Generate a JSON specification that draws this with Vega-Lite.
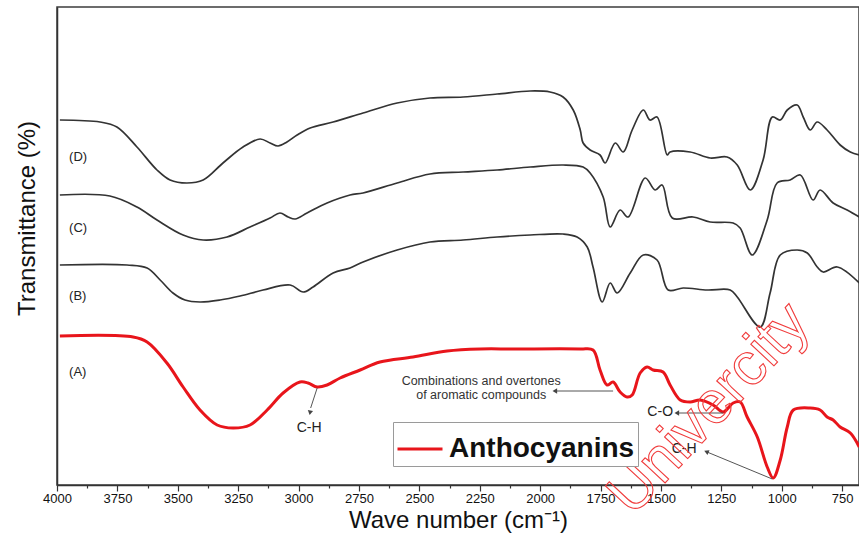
{
  "$schema": "https://vega.github.io/schema/vega-lite/v6.json",
  "width": 802,
  "height": 478,
  "autosize": {"type": "none"},
  "padding": {"left": 57, "top": 7, "right": 0, "bottom": 56},
  "background": "white",
  "config": {"view": {"stroke": "#3c3c3c", "strokeWidth": 1.5}, "font": "Liberation Sans"},
  "datasets": {
    "spectra": [
      {"s":"D","wn":3988,"t":365},{"s":"D","wn":3822,"t":363},{"s":"D","wn":3752,"t":358},{"s":"D","wn":3669,"t":338},{"s":"D","wn":3586,"t":315},{"s":"D","wn":3532,"t":305},{"s":"D","wn":3462,"t":302},{"s":"D","wn":3395,"t":305},{"s":"D","wn":3313,"t":322},{"s":"D","wn":3230,"t":338},{"s":"D","wn":3159,"t":346},{"s":"D","wn":3118,"t":342},{"s":"D","wn":3085,"t":339},{"s":"D","wn":3048,"t":343},{"s":"D","wn":3006,"t":350},{"s":"D","wn":2952,"t":357},{"s":"D","wn":2857,"t":363},{"s":"D","wn":2733,"t":372},{"s":"D","wn":2592,"t":382},{"s":"D","wn":2456,"t":387},{"s":"D","wn":2319,"t":388},{"s":"D","wn":2178,"t":391},{"s":"D","wn":2041,"t":394},{"s":"D","wn":1959,"t":393},{"s":"D","wn":1905,"t":388},{"s":"D","wn":1863,"t":375},{"s":"D","wn":1834,"t":355},{"s":"D","wn":1822,"t":342},{"s":"D","wn":1793,"t":335},{"s":"D","wn":1752,"t":330},{"s":"D","wn":1731,"t":322},{"s":"D","wn":1689,"t":342},{"s":"D","wn":1656,"t":333},{"s":"D","wn":1619,"t":355},{"s":"D","wn":1573,"t":375},{"s":"D","wn":1545,"t":365},{"s":"D","wn":1516,"t":368},{"s":"D","wn":1474,"t":330},{"s":"D","wn":1462,"t":333},{"s":"D","wn":1379,"t":333},{"s":"D","wn":1296,"t":327},{"s":"D","wn":1226,"t":328},{"s":"D","wn":1184,"t":320},{"s":"D","wn":1130,"t":295},{"s":"D","wn":1077,"t":325},{"s":"D","wn":1039,"t":368},{"s":"D","wn":1006,"t":365},{"s":"D","wn":977,"t":375},{"s":"D","wn":936,"t":380},{"s":"D","wn":911,"t":368},{"s":"D","wn":882,"t":355},{"s":"D","wn":853,"t":363},{"s":"D","wn":812,"t":355},{"s":"D","wn":758,"t":340},{"s":"D","wn":716,"t":333},{"s":"D","wn":679,"t":330},
      {"s":"C","wn":3988,"t":290},{"s":"C","wn":3781,"t":289},{"s":"C","wn":3669,"t":278},{"s":"C","wn":3586,"t":265},{"s":"C","wn":3478,"t":250},{"s":"C","wn":3395,"t":245},{"s":"C","wn":3296,"t":248},{"s":"C","wn":3201,"t":258},{"s":"C","wn":3118,"t":267},{"s":"C","wn":3077,"t":272},{"s":"C","wn":3043,"t":268},{"s":"C","wn":3014,"t":266},{"s":"C","wn":2965,"t":272},{"s":"C","wn":2882,"t":282},{"s":"C","wn":2787,"t":290},{"s":"C","wn":2733,"t":292},{"s":"C","wn":2592,"t":302},{"s":"C","wn":2456,"t":311},{"s":"C","wn":2319,"t":313},{"s":"C","wn":2178,"t":315},{"s":"C","wn":2041,"t":318},{"s":"C","wn":1905,"t":320},{"s":"C","wn":1822,"t":318},{"s":"C","wn":1793,"t":312},{"s":"C","wn":1739,"t":288},{"s":"C","wn":1710,"t":258},{"s":"C","wn":1669,"t":275},{"s":"C","wn":1636,"t":268},{"s":"C","wn":1565,"t":307},{"s":"C","wn":1524,"t":295},{"s":"C","wn":1495,"t":300},{"s":"C","wn":1453,"t":267},{"s":"C","wn":1367,"t":268},{"s":"C","wn":1296,"t":263},{"s":"C","wn":1201,"t":262},{"s":"C","wn":1172,"t":257},{"s":"C","wn":1122,"t":230},{"s":"C","wn":1060,"t":265},{"s":"C","wn":1019,"t":302},{"s":"C","wn":965,"t":305},{"s":"C","wn":923,"t":310},{"s":"C","wn":870,"t":285},{"s":"C","wn":841,"t":295},{"s":"C","wn":787,"t":282},{"s":"C","wn":729,"t":275},{"s":"C","wn":679,"t":268},
      {"s":"B","wn":3988,"t":220},{"s":"B","wn":3710,"t":220},{"s":"B","wn":3627,"t":217},{"s":"B","wn":3573,"t":205},{"s":"B","wn":3520,"t":192},{"s":"B","wn":3470,"t":185},{"s":"B","wn":3408,"t":183},{"s":"B","wn":3325,"t":185},{"s":"B","wn":3242,"t":189},{"s":"B","wn":3147,"t":195},{"s":"B","wn":3035,"t":200},{"s":"B","wn":2981,"t":193},{"s":"B","wn":2940,"t":198},{"s":"B","wn":2857,"t":212},{"s":"B","wn":2787,"t":217},{"s":"B","wn":2733,"t":223},{"s":"B","wn":2592,"t":235},{"s":"B","wn":2456,"t":243},{"s":"B","wn":2319,"t":245},{"s":"B","wn":2178,"t":248},{"s":"B","wn":2041,"t":250},{"s":"B","wn":1905,"t":251},{"s":"B","wn":1847,"t":248},{"s":"B","wn":1805,"t":238},{"s":"B","wn":1781,"t":218},{"s":"B","wn":1743,"t":183},{"s":"B","wn":1710,"t":202},{"s":"B","wn":1681,"t":192},{"s":"B","wn":1627,"t":212},{"s":"B","wn":1573,"t":230},{"s":"B","wn":1516,"t":225},{"s":"B","wn":1470,"t":195},{"s":"B","wn":1408,"t":197},{"s":"B","wn":1308,"t":195},{"s":"B","wn":1213,"t":195},{"s":"B","wn":1184,"t":188},{"s":"B","wn":1089,"t":158},{"s":"B","wn":1048,"t":192},{"s":"B","wn":1006,"t":230},{"s":"B","wn":936,"t":235},{"s":"B","wn":894,"t":232},{"s":"B","wn":853,"t":218},{"s":"B","wn":828,"t":213},{"s":"B","wn":770,"t":218},{"s":"B","wn":679,"t":202},
      {"s":"A","wn":3988,"t":149},{"s":"A","wn":3685,"t":148},{"s":"A","wn":3627,"t":143},{"s":"A","wn":3545,"t":122},{"s":"A","wn":3478,"t":98},{"s":"A","wn":3408,"t":75},{"s":"A","wn":3337,"t":60},{"s":"A","wn":3271,"t":57},{"s":"A","wn":3201,"t":60},{"s":"A","wn":3130,"t":75},{"s":"A","wn":3064,"t":92},{"s":"A","wn":2994,"t":103},{"s":"A","wn":2961,"t":102},{"s":"A","wn":2923,"t":98},{"s":"A","wn":2882,"t":100},{"s":"A","wn":2828,"t":107},{"s":"A","wn":2745,"t":115},{"s":"A","wn":2663,"t":123},{"s":"A","wn":2526,"t":128},{"s":"A","wn":2385,"t":134},{"s":"A","wn":2248,"t":136},{"s":"A","wn":2112,"t":136},{"s":"A","wn":1834,"t":136},{"s":"A","wn":1781,"t":135},{"s":"A","wn":1752,"t":115},{"s":"A","wn":1723,"t":100},{"s":"A","wn":1698,"t":103},{"s":"A","wn":1669,"t":93},{"s":"A","wn":1640,"t":88},{"s":"A","wn":1619,"t":90},{"s":"A","wn":1586,"t":112},{"s":"A","wn":1557,"t":118},{"s":"A","wn":1532,"t":115},{"s":"A","wn":1491,"t":113},{"s":"A","wn":1462,"t":100},{"s":"A","wn":1420,"t":85},{"s":"A","wn":1379,"t":83},{"s":"A","wn":1338,"t":85},{"s":"A","wn":1284,"t":80},{"s":"A","wn":1242,"t":73},{"s":"A","wn":1201,"t":82},{"s":"A","wn":1172,"t":83},{"s":"A","wn":1143,"t":68},{"s":"A","wn":1101,"t":48},{"s":"A","wn":1060,"t":18},{"s":"A","wn":1035,"t":7},{"s":"A","wn":1006,"t":25},{"s":"A","wn":977,"t":58},{"s":"A","wn":952,"t":75},{"s":"A","wn":882,"t":77},{"s":"A","wn":841,"t":75},{"s":"A","wn":812,"t":68},{"s":"A","wn":787,"t":65},{"s":"A","wn":758,"t":58},{"s":"A","wn":716,"t":52},{"s":"A","wn":679,"t":38}
    ],
    "seriesLabels": [
      {"text":"(D)","wn":3950,"t":328},{"text":"(C)","wn":3950,"t":257},{"text":"(B)","wn":3950,"t":189},{"text":"(A)","wn":3950,"t":113}
    ],
    "bondLabels": [
      {"text":"C-H","wn":2956,"t":57},{"text":"C-O","wn":1503,"t":73},{"text":"C-H","wn":1404,"t":36}
    ],
    "noteLabels": [
      {"text":"Combinations and overtones","wn":2244,"t":104},{"text":"of aromatic compounds","wn":2244,"t":90}
    ],
    "arrows": [
      {"wn":2923,"t":97,"wn2":2950,"t2":77},
      {"wn":1934,"t":94,"wn2":1698,"t2":94},
      {"wn":1429,"t":72,"wn2":1242,"t2":72},
      {"wn":1309,"t":33,"wn2":1039,"t2":6}
    ]
  },
  "encoding": {
    "x": {"field":"wn","type":"quantitative",
      "scale":{"domain":[680,4000],"reverse":true,"nice":false,"zero":false},
      "axis":{"title":"Wave number (cm⁻¹)","values":[4000,3875,3750,3625,3500,3375,3250,3125,3000,2875,2750,2625,2500,2375,2250,2125,2000,1875,1750,1625,1500,1375,1250,1125,1000,875,750],
        "labelExpr":"datum.value % 250 === 0 ? datum.label : ''","format":"d","labelFlush":false,"labelOverlap":false,"grid":false,
        "domainColor":"#333","domainWidth":1.5,"tickColor":"#333","tickWidth":1.2,
        "tickSize":{"condition":{"test":"datum.value % 250 === 0","value":6},"value":3},
        "labelFont":"Liberation Sans","labelFontSize":13,"labelColor":"#111","labelPadding":1,
        "titleFont":"Liberation Sans","titleFontSize":24,"titleFontWeight":"normal","titleColor":"#111","titlePadding":3}},
    "y": {"field":"t","type":"quantitative",
      "scale":{"domain":[0,478],"nice":false,"zero":false},
      "axis":{"title":"Transmittance (%)","labels":false,"ticks":false,"grid":false,"domainColor":"#333","domainWidth":1.5,
        "titleFont":"Liberation Sans","titleFontSize":24,"titleFontWeight":"normal","titleColor":"#111","titleY":211,"titleX":-18}}
  },
  "layer": [
    {"data":{"name":"spectra"},"transform":[{"filter":"datum.s !== 'A'"}],
     "mark":{"type":"line","color":"#333","strokeWidth":1.7,"interpolate":"catmull-rom","clip":true},
     "encoding":{"detail":{"field":"s"}}},
    {"data":{"name":"spectra"},"transform":[{"filter":"datum.s === 'A'"}],
     "mark":{"type":"line","strokeWidth":3,"interpolate":"catmull-rom","clip":true},
     "encoding":{"color":{"field":"s","type":"nominal","scale":{"domain":["A"],"range":["#e8151b"]},
       "legend":{"orient":"none","legendX":336,"legendY":415,"title":null,"labelExpr":"'Anthocyanins'","labelLimit":400,
         "symbolType":"stroke","symbolSize":2025,"symbolStrokeWidth":3,"labelFont":"Liberation Sans","labelFontSize":28,"labelFontWeight":"bold","labelColor":"#111","labelOffset":5,
         "padding":3,"strokeColor":"#9a9a9a","fillColor":"white"}}}},
    {"data":{"name":"arrows"},"mark":{"type":"rule","color":"#555","strokeWidth":1},
     "encoding":{"x2":{"field":"wn2"},"y2":{"field":"t2"}}},
    {"data":{"values":[{"wn":2952,"t":73}]},"mark":{"type":"point","shape":"triangle","angle":190,"filled":true,"color":"#444","size":28,"opacity":1}},
    {"data":{"values":[{"wn":1936,"t":94},{"wn":1431,"t":72}]},"mark":{"type":"point","shape":"triangle","angle":270,"filled":true,"color":"#444","size":28,"opacity":1}},
    {"data":{"values":[{"wn":1309,"t":33}]},"mark":{"type":"point","shape":"triangle","angle":293,"filled":true,"color":"#444","size":28,"opacity":1}},
    {"data":{"name":"seriesLabels"},"mark":{"type":"text","align":"left","baseline":"middle","fontSize":13,"color":"#222","font":"Liberation Sans"},
     "encoding":{"text":{"field":"text"}}},
    {"data":{"name":"bondLabels"},"mark":{"type":"text","align":"center","baseline":"middle","fontSize":14,"color":"#222","font":"Liberation Sans"},
     "encoding":{"text":{"field":"text"}}},
    {"data":{"name":"noteLabels"},"mark":{"type":"text","align":"center","baseline":"middle","fontSize":12.5,"color":"#333","font":"Liberation Sans"},
     "encoding":{"text":{"field":"text"}}},
    {"data":{"values":[{"text":"Univercity","wn":1300,"t":76}]},
     "mark":{"type":"text","align":"center","baseline":"middle","fontSize":60,"angle":-47,"font":"Liberation Sans","fillOpacity":0,"stroke":"#f03c3c","strokeWidth":1.1},
     "encoding":{"text":{"field":"text"}}}
  ]
}
